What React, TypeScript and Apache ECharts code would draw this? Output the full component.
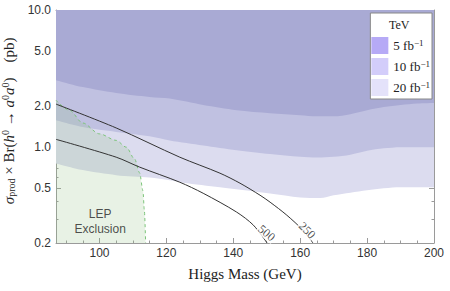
import { useEffect, useRef } from "react";
import * as echarts from "echarts";

// Axis ranges
const xMin = 87;
const xMax = 200;
const yMin = 0.2;
const yMax = 10;

// Tick positions
const xMajorTicks = [100, 120, 140, 160, 180, 200];
const xMinorTicks = [90, 95, 105, 110, 115, 125, 130, 135, 145, 150, 155, 165, 170, 175, 185, 190, 195];
const yMajorTicks = [0.2, 0.5, 1, 2, 5, 10];
const yMinorTicks = [0.3, 0.4, 0.6, 0.7, 0.8, 0.9, 3, 4, 6, 7, 8, 9];

// Sensitivity bands: lower boundary of each region (Higgs mass GeV, sigma x Br in pb)
const band5fb: [number, number][] = [
  [87, 3.08], [95, 2.74], [105, 2.48], [115, 2.32], [121, 2.26], [131, 2.03], [141, 1.86],
  [151, 1.77], [160, 1.71], [165, 1.68], [170, 1.68], [175, 1.74], [180, 1.86], [185, 1.96],
  [190, 2.03], [195, 2.08], [200, 2.1],
];
const band10fb: [number, number][] = [
  [87, 1.57], [95, 1.4], [105, 1.29], [115, 1.2], [121, 1.12], [131, 1.03], [141, 0.95],
  [151, 0.89], [160, 0.85], [165, 0.84], [170, 0.85], [175, 0.88], [180, 0.94], [185, 0.98],
  [190, 1.0], [200, 1.0],
];
const band20fb: [number, number][] = [
  [87, 0.76], [95, 0.68], [105, 0.625], [115, 0.6], [121, 0.574], [125, 0.55], [136, 0.51],
  [151, 0.46], [160, 0.43], [166, 0.425], [170, 0.445], [175, 0.465], [180, 0.485], [190, 0.51],
  [200, 0.51],
];

// LEP exclusion boundary
const lepBoundary: [number, number][] = [
  [87, 2.2], [91, 1.86], [95, 1.5], [100, 1.25], [105, 1.12], [108, 1.0], [110.5, 0.82],
  [112, 0.65], [113, 0.48], [113.4, 0.35], [113.8, 0.2],
];

// Contours
const contour250: [number, number][] = [
  [87, 2.06], [105, 1.38], [124, 0.845], [136, 0.646], [142, 0.546], [148, 0.446], [151, 0.397],
  [156, 0.319], [160.8, 0.248], [163.8, 0.2],
];
const contour500: [number, number][] = [
  [87, 1.14], [105, 0.845], [112, 0.715], [124, 0.555], [131, 0.461], [141, 0.336], [146, 0.27],
  [150.1, 0.2],
];

// Annotation anchors
const label500: [number, number] = [150.0, 0.237];
const label250: [number, number] = [162.1, 0.248];
const lepLabel: [number, number] = [100.2, 0.286];

const ly = (v: number) => Math.log10(v);
const toData = (pts: [number, number][]) => pts.map(([x, y]) => [x, ly(y)]);

const AXIS_GRAY = "#9a9a9a";
const SERIF = "Liberation Serif";
const SANS = "Liberation Sans";

export default function App() {
  const ref = useRef<HTMLDivElement>(null);

  useEffect(() => {
    document.body.style.margin = "0";
    if (!ref.current) return;
    const chart = echarts.init(ref.current, undefined, { renderer: "svg" });

    const xBase = {
      type: "value",
      min: xMin,
      max: xMax,
      splitLine: { show: false },
    };
    const yBase = {
      type: "value",
      min: ly(yMin),
      max: ly(yMax),
      splitLine: { show: false },
    };
    const tickStyle = { color: AXIS_GRAY, width: 1 };

    const xAxes = [
      {
        ...xBase,
        position: "bottom",
        axisLine: { onZero: false, lineStyle: { color: AXIS_GRAY } },
        axisTick: { inside: true, length: 5, customValues: xMajorTicks, lineStyle: tickStyle },
        axisLabel: { customValues: xMajorTicks, color: "#333", fontFamily: SANS, fontSize: 12, margin: 4 },
        name: "Higgs Mass (GeV)",
        nameLocation: "middle",
        nameGap: 23,
        nameTextStyle: { fontFamily: SERIF, fontSize: 15, color: "#222" },
      },
      {
        ...xBase,
        position: "bottom",
        axisLine: { show: false, onZero: false },
        axisTick: { inside: true, length: 2.5, customValues: xMinorTicks, lineStyle: tickStyle },
        axisLabel: { show: false },
      },
      {
        ...xBase,
        position: "top",
        axisLine: { onZero: false, lineStyle: { color: AXIS_GRAY } },
        axisTick: { inside: true, length: 5, customValues: xMajorTicks, lineStyle: tickStyle },
        axisLabel: { show: false },
      },
      {
        ...xBase,
        position: "top",
        axisLine: { show: false, onZero: false },
        axisTick: { inside: true, length: 2.5, customValues: xMinorTicks, lineStyle: tickStyle },
        axisLabel: { show: false },
      },
    ];

    const yMajor = yMajorTicks.map(ly);
    const yMinor = yMinorTicks.map(ly);
    const yAxes = [
      {
        ...yBase,
        position: "left",
        axisLine: { onZero: false, lineStyle: { color: AXIS_GRAY } },
        axisTick: { inside: true, length: 5, customValues: yMajor, lineStyle: tickStyle },
        axisLabel: {
          customValues: yMajor,
          color: "#333",
          fontFamily: SANS,
          fontSize: 12,
          margin: 5,
          formatter: (v: number) => Math.pow(10, v).toFixed(1),
        },
        name:
          "{n|   }{i|σ}{sub|prod}{n| × Br(}{i|h}{sup|0}{n| → }{i|a}{sup|0}{i|a}{sup|0}{n|)    (pb)}",
        nameLocation: "middle",
        nameRotate: 90,
        nameGap: 30,
        nameTextStyle: {
          fontFamily: SERIF,
          fontSize: 15,
          color: "#222",
          rich: {
            n: { fontFamily: SERIF, fontSize: 15, color: "#222", lineHeight: 16 },
            i: { fontFamily: SERIF, fontSize: 15, fontStyle: "italic", color: "#222", lineHeight: 16 },
            sub: { fontFamily: SERIF, fontSize: 10, color: "#222", verticalAlign: "bottom", lineHeight: 10 },
            sup: { fontFamily: SERIF, fontSize: 10, color: "#222", verticalAlign: "top", lineHeight: 10 },
          },
        },
      },
      {
        ...yBase,
        position: "left",
        axisLine: { show: false, onZero: false },
        axisTick: { inside: true, length: 2.5, customValues: yMinor, lineStyle: tickStyle },
        axisLabel: { show: false },
      },
      {
        ...yBase,
        position: "right",
        axisLine: { onZero: false, lineStyle: { color: AXIS_GRAY } },
        axisTick: { inside: true, length: 5, customValues: yMajor, lineStyle: tickStyle },
        axisLabel: { show: false },
      },
      {
        ...yBase,
        position: "right",
        axisLine: { show: false, onZero: false },
        axisTick: { inside: true, length: 2.5, customValues: yMinor, lineStyle: tickStyle },
        axisLabel: { show: false },
      },
    ];

    const bandSeries = (name: string, pts: [number, number][], color: string) => ({
      name,
      type: "line",
      data: toData(pts),
      smooth: 0.3,
      symbol: "none",
      color,
      lineStyle: { width: 0, color },
      areaStyle: { origin: "end", color, opacity: 1 },
      silent: true,
    });

    const option = {
      animation: false,
      grid: { left: 56, right: 16, top: 10, bottom: 48, containLabel: false, outerBoundsMode: "none" },
      xAxis: xAxes,
      yAxis: yAxes,
      legend: {
        data: [
          { name: "5 fb^-1", itemStyle: { color: "#b6aaf6" } },
          { name: "10 fb^-1", itemStyle: { color: "#d3cdfa" } },
          { name: "20 fb^-1", itemStyle: { color: "#e4e2fa" } },
        ],
        orient: "vertical",
        right: 18,
        top: 13,
        backgroundColor: "#fff",
        borderColor: "#888",
        borderWidth: 1,
        borderRadius: 0,
        padding: [24, 2, 3, 1],
        itemWidth: 17,
        itemHeight: 17,
        itemGap: 4,
        icon: "rect",
        selectedMode: false,
        formatter: (name: string) => `{a|${name.split(" ")[0]} fb}{s|−1}`,
        textStyle: {
          fontFamily: SERIF,
          fontSize: 13,
          color: "#222",
          rich: {
            a: { fontFamily: SERIF, fontSize: 13, color: "#222", lineHeight: 15 },
            s: { fontFamily: SERIF, fontSize: 9, color: "#222", verticalAlign: "top", lineHeight: 9 },
          },
        },
      },
      graphic: [
        {
          type: "text",
          left: 389,
          top: 19,
          z: 100,
          style: { text: "TeV", fontFamily: SERIF, fontSize: 12, fill: "#222" },
        },
      ],
      series: [
        bandSeries("20 fb^-1", band20fb, "#dcdcef"),
        bandSeries("10 fb^-1", band10fb, "#c0c1e1"),
        bandSeries("5 fb^-1", band5fb, "#a9aad4"),
        {
          name: "LEP",
          type: "line",
          data: toData(lepBoundary),
          smooth: 0.3,
          smoothMonotone: "x",
          symbol: "none",
          lineStyle: { color: "#7cc47a", width: 1, type: [3, 3] },
          areaStyle: { origin: "start", color: "rgba(145,195,132,0.3)" },
          silent: true,
        },
        {
          name: "500",
          type: "line",
          data: toData(contour500),
          smooth: 0.3,
          symbol: "none",
          lineStyle: { color: "#333", width: 1 },
          silent: true,
        },
        {
          name: "250",
          type: "line",
          data: toData(contour250),
          smooth: 0.3,
          symbol: "none",
          lineStyle: { color: "#333", width: 1 },
          silent: true,
        },
        {
          name: "labels",
          type: "scatter",
          symbolSize: 1,
          itemStyle: { color: "rgba(0,0,0,0)" },
          silent: true,
          z: 10,
          data: [
            {
              value: [label500[0], ly(label500[1])],
              label: {
                show: true, position: "inside", formatter: "500", rotate: -40,
                fontFamily: SERIF, fontSize: 12, color: "#222", backgroundColor: "#fff", padding: [0, 1],
              },
            },
            {
              value: [label250[0], ly(label250[1])],
              label: {
                show: true, position: "inside", formatter: "250", rotate: -45,
                fontFamily: SERIF, fontSize: 12, color: "#222", backgroundColor: "#fff", padding: [0, 1],
              },
            },
            {
              value: [lepLabel[0], ly(lepLabel[1])],
              label: {
                show: true, position: "inside", formatter: "LEP\nExclusion", align: "center",
                fontFamily: SANS, fontSize: 12, lineHeight: 15, color: "#222",
              },
            },
          ],
        },
      ],
    };

    chart.setOption(option as any);
    return () => chart.dispose();
  }, []);

  return (
    <div
      ref={ref}
      style={{ position: "fixed", left: 0, top: 0, width: 450, height: 291, background: "#fff" }}
    />
  );
}
